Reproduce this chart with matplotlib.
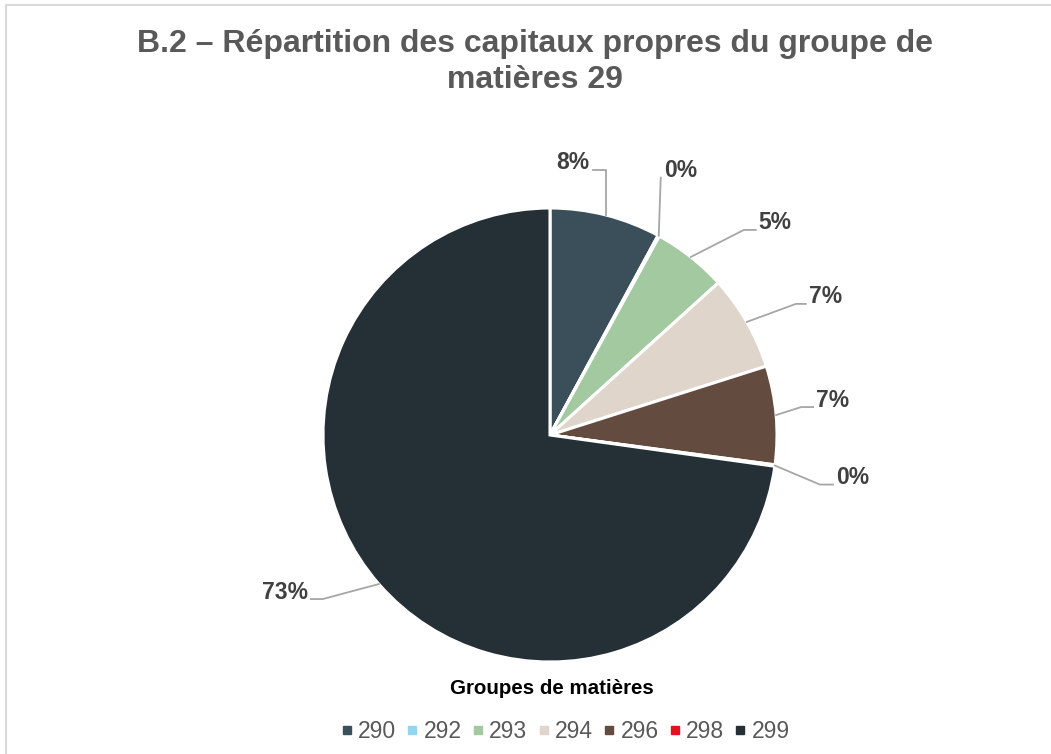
import matplotlib.pyplot as plt
import numpy as np

plt.rcParams["font.family"] = ["Liberation Sans", "DejaVu Sans"]

# data
groupes = ["290", "292", "293", "294", "296", "298", "299"]
parts = [7.9, 0.1, 5.3, 6.8, 7.0, 0.1, 72.8]
etiquettes = ["8%", "0%", "5%", "7%", "7%", "0%", "73%"]
couleurs = ["#3B4F5A", "#92D5EE", "#A3C9A1", "#E0D5CB", "#634B40", "#E8101E", "#252F36"]

# layout of leader lines (pixel offsets from the wedge edge point)
coude = [(0, 45), (2, 58), (53, 27), (49, 18), (25, 8), (45, -19), (-56, -15)]
queue = [-13, 0, 12, 10, 12, 13, -12]

W, H = 1051, 754
fig = plt.figure(figsize=(W / 100, H / 100), dpi=100)
ax = fig.add_axes([0, 0, 1, 1])

cx, cy, r = 550, H - 435, 227
wedges, _ = ax.pie(
    parts,
    colors=couleurs,
    startangle=90,
    counterclock=False,
    center=(cx, cy),
    radius=r,
    wedgeprops=dict(edgecolor="white", linewidth=2.2),
    frame=True,
)
ax.set_xlim(0, W)
ax.set_ylim(0, H)
ax.axis("off")

for w, lab, (dx, dy), q in zip(wedges, etiquettes, coude, queue):
    ang = np.deg2rad((w.theta1 + w.theta2) / 2)
    ex, ey = cx + r * np.cos(ang), cy + r * np.sin(ang)
    px, py = ex + dx, ey + dy
    tx = px + q
    ax.plot([ex, px, tx], [ey, py, py], color="#A6A6A6", lw=1.3, zorder=1)
    if q < 0:
        ax.text(tx - 3, py + 7, lab, ha="right", va="center", fontsize=16.5,
                fontweight="bold", color="#404040")
    else:
        ax.text(tx + 3, py + 7, lab, ha="left", va="center", fontsize=16.5,
                fontweight="bold", color="#404040")

fig.text(535 / W, 1 - 62 / H,
         "B.2 – Répartition des capitaux propres du groupe de\nmatières 29",
         ha="center", va="center", fontsize=23, fontweight="bold",
         color="#595959", linespacing=1.3)

fig.text(552 / W, 1 - 689 / H, "Groupes de matières", ha="center", va="center",
         fontsize=14.8, fontweight="bold", color="black")

handles = [plt.Line2D([], [], marker="s", ls="", markersize=6, color=c)
           for c in couleurs]
fig.legend(handles, groupes, loc="center", bbox_to_anchor=(566 / W, 1 - 732 / H),
           ncol=7, frameon=False, fontsize=16.5, handlelength=0.4,
           handletextpad=0.3, columnspacing=0.5, labelcolor="#595959")

# frame of the chart area
ax.plot([6, 6, W], [0, H - 5, H - 5], color="#D9D9D9", lw=1.5)

fig.savefig("out.png", dpi=100, facecolor="white")
